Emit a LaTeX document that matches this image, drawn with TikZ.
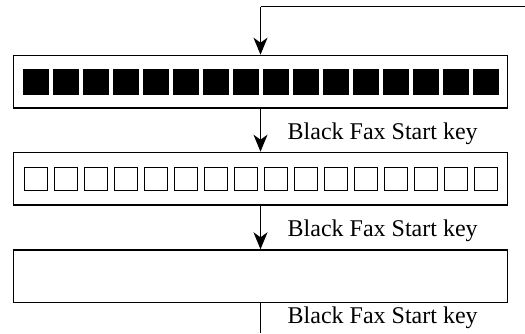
\documentclass[tikz,border=0pt]{standalone}
\usepackage{fontspec}
\setmainfont{Liberation Serif}
\usetikzlibrary{arrows.meta}
\begin{document}
\begin{tikzpicture}[x=1pt,y=-1pt,
  panel/.style={draw, line width=1.3pt, minimum width=494.3pt, minimum height=52.5pt, inner sep=0pt, anchor=north west},
  keyon/.style={fill=black, draw=black, line width=0.5pt, minimum width=24.5pt, minimum height=24.5pt, inner sep=0pt},
  keyoff/.style={draw=black, line width=1.1pt, minimum width=23.5pt, minimum height=23pt, inner sep=0pt},
  flow/.style={line width=1.4pt, -{Stealth[length=17pt,width=14pt,inset=5pt]}},
  plain/.style={line width=1.4pt},
  lbl/.style={font=\fontsize{24pt}{26pt}\selectfont, anchor=base west, inner sep=0pt}]
\useasboundingbox (0,0) rectangle (525,333);
\node[panel] (b1) at (12.7,54.7) {};
\node[panel] (b2) at (12.7,151.7) {};
\node[panel] (b3) at (12.7,249.3) {};
\foreach \i in {0,...,15}{
  \node[keyon] (on\i) at ({35.8+30*\i},81.8) {};
  \node[keyoff] (off\i) at ({35.8+30*\i},178.7) {};
}
\coordinate (tr) at (525,6.5);
\coordinate (tc) at (260.5,6.5);
\coordinate (bend) at (260.5,333);
\draw[plain] (tr) -- (tc);
\draw[flow] (tc) -- (tc |- b1.north);
\draw[flow] (tc |- b1.south) -- (tc |- b2.north);
\draw[flow] (tc |- b2.south) -- (tc |- b3.north);
\draw[plain] (tc |- b3.south) -- (bend);
\node[lbl] (l1) at (287.5,139) {Black Fax Start key};
\node[lbl] (l2) at (287.5,236.7) {Black Fax Start key};
\node[lbl] (l3) at (287.5,323) {Black Fax Start key};
\end{tikzpicture}
\end{document}
